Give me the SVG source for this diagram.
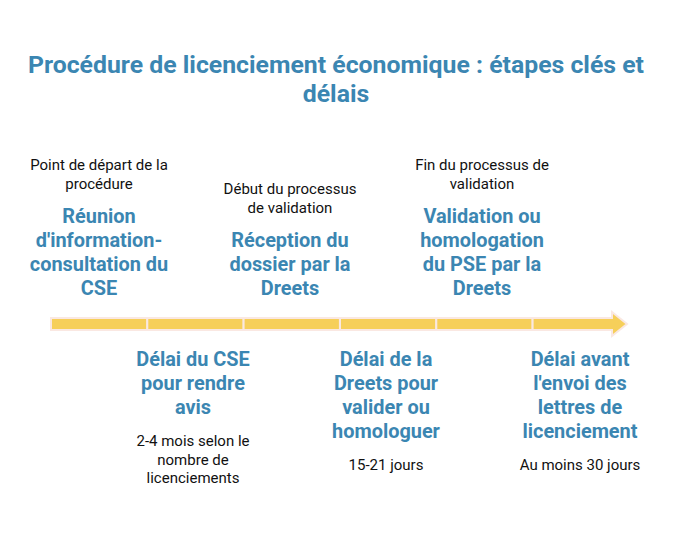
<svg xmlns="http://www.w3.org/2000/svg" width="680" height="534" viewBox="0 0 680 534">
<style>
.title{font-family:Roboto,"Liberation Sans",sans-serif;font-weight:bold;font-size:24.8px;fill:#3B86B2;text-anchor:middle}
.head{font-family:Roboto,"Liberation Sans",sans-serif;font-weight:bold;font-size:19.9px;fill:#3B86B2;text-anchor:middle}
.note{font-family:Roboto,"Liberation Sans",sans-serif;font-size:15px;fill:#111;text-anchor:middle}
.seg{fill:#F6CF5A;stroke:#FAE8E2;stroke-width:2}
</style>
<rect width="680" height="534" fill="#fff"/>
<g id="title">
<text class="title" x="336" y="73">Procédure de licenciement économique : étapes clés et</text>
<text class="title" x="336" y="102">délais</text>
</g>
<g id="connectors">
<rect class="seg" x="51" y="318" width="96.3" height="12"/>
<rect class="seg" x="147.3" y="318" width="96.3" height="12"/>
<rect class="seg" x="243.6" y="318" width="96.3" height="12"/>
<rect class="seg" x="340" y="318" width="96.3" height="12"/>
<rect class="seg" x="436.3" y="318" width="96.3" height="12"/>
<path class="seg" d="M532.6 318 H612 V312 L627 324 L612 336 V330 H532.6 Z"/>
</g>
<g id="n1">
<text class="note" x="99" y="170">Point de départ de la</text>
<text class="note" x="99" y="189">procédure</text>
<text class="head" x="99" y="223">Réunion</text>
<text class="head" x="99" y="247">d'information-</text>
<text class="head" x="99" y="271">consultation du</text>
<text class="head" x="99" y="295">CSE</text>
</g>
<g id="n2">
<text class="head" x="193" y="366">Délai du CSE</text>
<text class="head" x="193" y="390">pour rendre</text>
<text class="head" x="193" y="414">avis</text>
<text class="note" x="193" y="446">2-4 mois selon le</text>
<text class="note" x="193" y="465">nombre de</text>
<text class="note" x="193" y="483">licenciements</text>
</g>
<g id="n3">
<text class="note" x="290" y="194">Début du processus</text>
<text class="note" x="290" y="213">de validation</text>
<text class="head" x="290" y="247">Réception du</text>
<text class="head" x="290" y="271">dossier par la</text>
<text class="head" x="290" y="295">Dreets</text>
</g>
<g id="n4">
<text class="head" x="386" y="366">Délai de la</text>
<text class="head" x="386" y="390">Dreets pour</text>
<text class="head" x="386" y="414">valider ou</text>
<text class="head" x="386" y="438">homologuer</text>
<text class="note" x="386" y="470">15-21 jours</text>
</g>
<g id="n5">
<text class="note" x="482" y="170">Fin du processus de</text>
<text class="note" x="482" y="189">validation</text>
<text class="head" x="482" y="223">Validation ou</text>
<text class="head" x="482" y="247">homologation</text>
<text class="head" x="482" y="271">du PSE par la</text>
<text class="head" x="482" y="295">Dreets</text>
</g>
<g id="n6">
<text class="head" x="580" y="366">Délai avant</text>
<text class="head" x="580" y="390">l'envoi des</text>
<text class="head" x="580" y="414">lettres de</text>
<text class="head" x="580" y="438">licenciement</text>
<text class="note" x="580" y="470">Au moins 30 jours</text>
</g>
</svg>
